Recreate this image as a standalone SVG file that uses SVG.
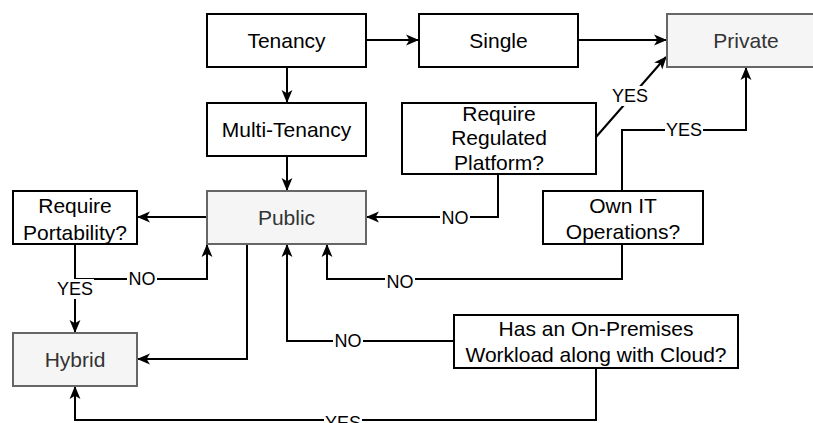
<svg xmlns="http://www.w3.org/2000/svg" width="813" height="423" viewBox="0 0 813 423">
<style>
.box{fill:#fff;stroke:#000;stroke-width:2}
.gbox{fill:#f5f5f5;stroke:#666;stroke-width:2}
.t{font-family:"Liberation Sans",Arial,sans-serif;font-size:21px;fill:#000;text-anchor:middle;dominant-baseline:central}
.gt{fill:#333}
.c{fill:none;stroke:#000;stroke-width:2}
.bg{fill:#fff}
.lbl{font-family:"Liberation Sans",Arial,sans-serif;font-size:18px;fill:#000;text-anchor:middle;dominant-baseline:central}
</style>
<defs>
<marker id="arr" viewBox="0 0 12 12" refX="11" refY="6" markerWidth="13" markerHeight="13" markerUnits="userSpaceOnUse" orient="auto">
<path d="M0,1 L12,6 L0,11 L3,6 z" fill="#000"/>
</marker>
</defs>
<rect width="813" height="423" fill="#fff"/>
<g id="connectors">
<path class="c" d="M366,40 H418" marker-end="url(#arr)"/>
<path class="c" d="M578,40 H666" marker-end="url(#arr)"/>
<path class="c" d="M287,67 V102" marker-end="url(#arr)"/>
<path class="c" d="M287,156 V190" marker-end="url(#arr)"/>
<path class="c" d="M596,137 L666,57" marker-end="url(#arr)"/>
<path class="c" d="M498,174 V217 H367" marker-end="url(#arr)"/>
<path class="c" d="M622,191 V130 H746 V68" marker-end="url(#arr)"/>
<path class="c" d="M622,244 V279 H327 V245" marker-end="url(#arr)"/>
<path class="c" d="M207,217 H138" marker-end="url(#arr)"/>
<path class="c" d="M75,244 V332" marker-end="url(#arr)"/>
<path class="c" d="M75,279 H207 V245" marker-end="url(#arr)"/>
<path class="c" d="M247,244 V359 H138" marker-end="url(#arr)"/>
<path class="c" d="M454,341 H287 V245" marker-end="url(#arr)"/>
<path class="c" d="M596,368 V420 H75 V387" marker-end="url(#arr)"/>
<rect class="bg" x="611" y="86" width="38" height="20"/><text class="lbl" x="630" y="96">YES</text>
<rect class="bg" x="440" y="208" width="30" height="20"/><text class="lbl" x="455" y="218">NO</text>
<rect class="bg" x="665" y="120" width="38" height="20"/><text class="lbl" x="684" y="130">YES</text>
<rect class="bg" x="385" y="272" width="30" height="20"/><text class="lbl" x="400" y="282">NO</text>
<rect class="bg" x="56" y="279" width="38" height="20"/><text class="lbl" x="75" y="289">YES</text>
<rect class="bg" x="127" y="269" width="30" height="20"/><text class="lbl" x="142" y="279">NO</text>
<rect class="bg" x="333" y="331" width="30" height="20"/><text class="lbl" x="348" y="341">NO</text>
<rect class="bg" x="324" y="413" width="38" height="10"/><text class="lbl" x="343" y="423">YES</text>
</g>
<g id="tenancy"><rect class="box" x="207" y="14" width="159" height="53"/><text class="t" x="286.5" y="40.5">Tenancy</text></g>
<g id="single"><rect class="box" x="419" y="14" width="159" height="53"/><text class="t" x="498.5" y="40.5">Single</text></g>
<g id="private"><rect class="gbox" x="667" y="14" width="159" height="53"/><text class="t gt" x="746" y="40.5">Private</text></g>
<g id="multi-tenancy"><rect class="box" x="207" y="103" width="159" height="53"/><text class="t" x="286.5" y="129.5">Multi-Tenancy</text></g>
<g id="public"><rect class="gbox" x="207" y="191" width="159" height="53"/><text class="t gt" x="286.5" y="217.5">Public</text></g>
<g id="require-portability"><rect class="box" x="13" y="191" width="124" height="53"/><text class="t" x="75" y="205">Require</text><text class="t" x="75" y="232">Portability?</text></g>
<g id="hybrid"><rect class="gbox" x="13" y="333" width="124" height="53"/><text class="t gt" x="75" y="359.5">Hybrid</text></g>
<g id="require-regulated"><rect class="box" x="402" y="103" width="194" height="71"/><text class="t" x="499" y="113">Require</text><text class="t" x="499" y="137.5">Regulated</text><text class="t" x="499" y="162">Platform?</text></g>
<g id="own-it"><rect class="box" x="543" y="191" width="160" height="53"/><text class="t" x="623" y="205">Own IT</text><text class="t" x="623" y="231">Operations?</text></g>
<g id="on-premises"><rect class="box" x="454" y="315" width="284" height="53"/><text class="t" x="596" y="328.5">Has an On-Premises</text><text class="t" x="596" y="354">Workload along with Cloud?</text></g>
</svg>
